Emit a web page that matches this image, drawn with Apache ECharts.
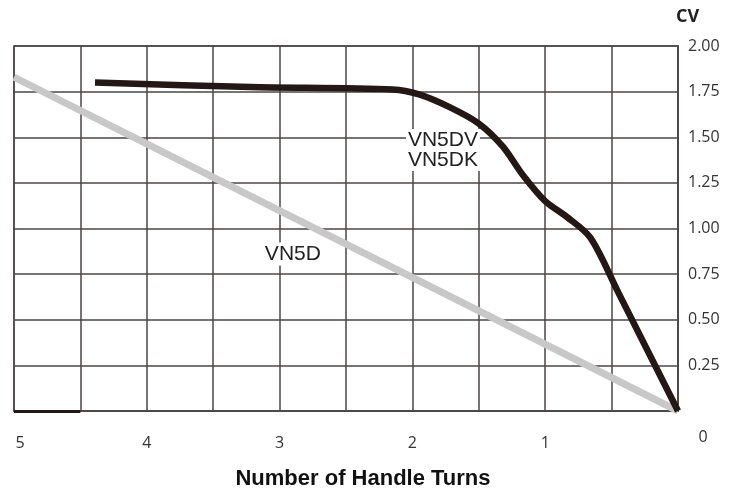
<!DOCTYPE html>
<html><head><meta charset="utf-8">
<script src="https://cdn.jsdelivr.net/npm/echarts@6/dist/echarts.min.js"></script>
<style>html,body{margin:0;padding:0;background:#fff}#c{width:737px;height:495px}</style>
</head><body><div id="c"></div>
<script>
// Number of handle turns vs CV
const vn5dTurns = [5, 0];
const vn5dCv = [1.83, 0];
const vn5dvTurns = [4.39, 3.22, 2.15, 1.95, 1.72, 1.5, 1.32, 1.17, 1.0, 0.84, 0.66, 0.45, 0];
const vn5dvCv = [1.80, 1.775, 1.762, 1.735, 1.665, 1.575, 1.45, 1.295, 1.15, 1.065, 0.95, 0.65, 0];
const xTicks = [5, 4, 3, 2, 1, 0];
const yTicks = [0.25, 0.5, 0.75, 1.0, 1.25, 1.5, 1.75, 2.0];
const labelVN5D = {name: 'VN5D', turns: 2.9, cv: 0.86};
const labelVN5DV = {name: 'VN5DV\nVN5DK', turns: 1.77, cv: 1.43};

const chart = echarts.init(document.getElementById('c'));
const gridColor = '#4d4646';
const zip = (a, b) => a.map((v, i) => [v, b[i]]);
const tickFont = {fontFamily: 'Open Sans', fontSize: 16, color: '#333'};
chart.setOption({
  animation: false,
  backgroundColor: '#fff',
  grid: {left: 14, right: 59, top: 46, bottom: 81, show: true, borderColor: gridColor, borderWidth: 1.5},
  xAxis: {
    type: 'value', min: 0, max: 5, interval: 0.5, inverse: true,
    name: 'Number of Handle Turns', nameLocation: 'middle', nameGap: 57,
    nameTextStyle: {fontFamily: 'Liberation Sans', fontWeight: 'bold', fontSize: 22, color: '#111', padding: [0, 0, 0, 34]},
    axisLine: {show: true, lineStyle: {color: gridColor, width: 1.5}},
    axisTick: {show: false},
    splitLine: {show: true, lineStyle: {color: gridColor, width: 1.5}},
    axisLabel: {
      margin: 18, ...tickFont,
      formatter: v => {
        if (!xTicks.includes(v)) return '';
        if (v === 5) return '{a|5}';
        if (v === 0) return '{b|0}';
        return '{n|' + v + '}';
      },
      rich: {
        n: {...tickFont, padding: [6, 0, 0, 0]},
        a: {...tickFont, padding: [6, 0, 0, 12]},
        b: {...tickFont, padding: [0, 0, 0, 50]}
      }
    }
  },
  yAxis: {
    type: 'value', min: 0, max: 2, interval: 0.25, position: 'right',
    name: 'CV', nameLocation: 'end', nameGap: 20,
    nameTextStyle: {fontFamily: 'Open Sans', fontWeight: 'bold', fontSize: 18, color: '#222', align: 'left', padding: [0, 0, 0, -2]},
    axisLine: {show: true, lineStyle: {color: gridColor, width: 1.5}},
    axisTick: {show: false},
    splitLine: {show: true, lineStyle: {color: gridColor, width: 1.5}},
    axisLabel: {
      margin: 10, ...tickFont,
      formatter: v => yTicks.includes(v) ? v.toFixed(2) : ''
    }
  },
  series: [
    {
      type: 'line', data: zip(vn5dTurns, vn5dCv), symbol: 'none', z: 3,
      lineStyle: {color: '#c8c8c8', width: 7, cap: 'butt'},
      markPoint: {
        symbol: 'rect', symbolSize: 1, itemStyle: {color: 'transparent'},
        data: [{coord: [labelVN5D.turns, labelVN5D.cv], value: 1}],
        label: {show: true, position: 'inside', formatter: labelVN5D.name, fontFamily: 'Liberation Sans', fontSize: 21, color: '#222', backgroundColor: '#fff', padding: [1, 2]}
      }
    },
    {
      type: 'line', data: zip(vn5dvTurns, vn5dvCv), symbol: 'none', smooth: 0.3, z: 4,
      lineStyle: {color: '#231815', width: 6.5, cap: 'butt', join: 'round'},
      markPoint: {
        symbol: 'rect', symbolSize: 1, itemStyle: {color: 'transparent'},
        data: [{coord: [labelVN5DV.turns, labelVN5DV.cv], value: 1}],
        label: {show: true, position: 'inside', formatter: labelVN5DV.name, fontFamily: 'Liberation Sans', fontSize: 21, lineHeight: 20, color: '#222', backgroundColor: '#fff', padding: [1, 2]}
      },
      markLine: {
        symbol: 'none', silent: true,
        lineStyle: {color: '#231815', width: 3, type: 'solid'},
        label: {show: false},
        data: [[{coord: [5, 0]}, {coord: [4.5, 0]}]]
      }
    }
  ]
});
</script>
</body></html>
